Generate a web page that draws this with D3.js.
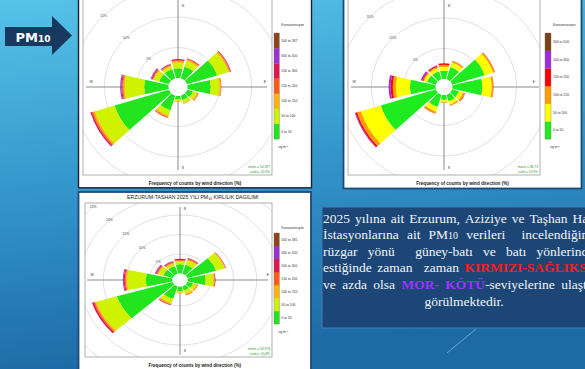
<!DOCTYPE html>
<html>
<head>
<meta charset="utf-8">
<script src="https://cdn.jsdelivr.net/npm/d3@7"></script>
<style>
  html, body { margin: 0; padding: 0; overflow: hidden; background: #2a8cc4; }
  svg { display: block; }
  .lbl { font-family: "Liberation Sans", Arial, sans-serif; }
  .body { font-family: "Liberation Serif", "Times New Roman", serif; }
</style>
</head>
<body>
<script>
// Wind sectors (degrees, 30° bins)
const directions = [0, 30, 60, 90, 120, 150, 180, 210, 240, 270, 300, 330];

// Erzurum – frequency (%) per sector for each PM10 band
const erz_0_50    = [1.59, 2.06, 4.92, 3.65, 0.95, 0.79, 0.56, 2.54, 8.89, 3.81, 1.59, 1.59];
const erz_50_100  = [0.95, 0.96, 1.83, 1.35, 0.64, 0.48, 0.28, 0.87, 3.17, 3.02, 0.87, 0.47];
const erz_100_150 = [0.24, 0.23, 0.23, 0.21, 0.20, 0.15, 0.11, 0.29, 0.32, 0.23, 0.16, 0.16];
const erz_150_200 = [0.12, 0.12, 0.10, 0.06, 0.08, 0.03, 0.02, 0.08, 0.21, 0.16, 0.13, 0.11];
const erz_200_300 = [0.20, 0.09, 0.11, 0.03, 0.03, 0.01, 0.00, 0.08, 0.20, 0.16, 0.14, 0.13];
const erz_300_500 = [0, 0, 0, 0, 0, 0, 0, 0, 0.05, 0.16, 0.13, 0.05];
const erz_500_587 = [0, 0, 0, 0, 0, 0, 0, 0, 0, 0.02, 0, 0];
const erzLegend   = ["0 to 50", "50 to 100", "100 to 150", "150 to 200", "200 to 300", "300 to 500", "500 to 587"];

// Aziziye – frequency (%) per sector for each PM10 band
const azi_0_50    = [1.37, 2.10, 5.32, 4.68, 1.13, 1.13, 0.81, 2.10, 9.03, 4.03, 1.45, 1.37];
const azi_50_100  = [0.65, 0.80, 1.37, 1.45, 0.64, 0.56, 0.32, 0.81, 3.23, 2.18, 0.49, 0.56];
const azi_100_150 = [0.32, 0.25, 0.25, 0.24, 0.33, 0.24, 0.16, 0.32, 0.64, 0.48, 0.16, 0.24];
const azi_150_200 = [0.24, 0.04, 0.06, 0.05, 0.05, 0.03, 0.00, 0.06, 0.25, 0.33, 0.16, 0.16];
const azi_200_300 = [0, 0, 0, 0, 0, 0, 0, 0, 0.11, 0.32, 0.24, 0.08];
const azi_300_500 = [0, 0, 0, 0, 0, 0, 0, 0, 0, 0, 0, 0];
const aziLegend   = ["0 to 50", "50 to 100", "100 to 150", "150 to 200", "200 to 300", "300 to 500"];

// Taşhan – frequency (%) per sector for each PM10 band
const tas_0_50    = [2.36, 2.44, 6.54, 3.92, 1.28, 1.15, 1.15, 3.46, 12.69, 5.79, 2.18, 2.05];
const tas_50_100  = [0.77, 1.15, 1.92, 1.72, 0.77, 0.90, 0.39, 1.03, 4.62, 3.98, 1.03, 0.64];
const tas_100_150 = [0.15, 0.26, 0.18, 0.21, 0.26, 0.33, 0.20, 0.38, 0.38, 0.36, 0.25, 0.26];
const tas_150_200 = [0.18, 0.18, 0.08, 0.12, 0.13, 0.13, 0.03, 0.13, 0.26, 0.20, 0.21, 0.20];
const tas_200_300 = [0.33, 0.20, 0.07, 0.11, 0.00, 0.00, 0.00, 0.13, 0.38, 0.21, 0.20, 0.21];
const tas_300_500 = [0, 0, 0, 0, 0, 0, 0, 0, 0.03, 0.20, 0.18, 0.10];
const tas_500_585 = [0, 0, 0, 0, 0, 0, 0, 0, 0, 0.02, 0, 0];
const tasLegend   = ["0 to 50", "50 to 100", "100 to 150", "150 to 200", "200 to 300", "300 to 500", "500 to 585"];

const statsErz = ["mean = 54.397", "calm = 10.9%"];
const statsAzi = ["mean = 48.73", "calm = 10.9%"];
const statsTas = ["mean = 63.678", "calm = 10.9%"];

const noteLines = [
  "2025 yılına ait Erzurum, Aziziye ve Taşhan Hava",
  "İstasyonlarına ait PM10 verileri  incelendiğinde",
  "rüzgar yönü  güney-batı ve batı yönlerinden",
  "estiğinde zaman  zaman KIRMIZI-SAĞLIKSIZ",
  "ve azda olsa MOR- KÖTÜ-seviyelerine ulaştığı",
  "görülmektedir."
];

const pal7 = ["#22e41f", "#cff200", "#ffb400", "#ff5a12", "#e0144f", "#9d2fd4", "#8a4518"];
const pal6 = ["#1fec1f", "#ffff00", "#ff9c00", "#ff0000", "#9c2be0", "#7c4014"];

const W = 585, H = 369;
const svg = d3.select("body").append("svg").attr("width", W).attr("height", H);
const defs = svg.append("defs");

// slide background
const bg = defs.append("linearGradient").attr("id", "bg")
  .attr("x1", 0).attr("y1", 0).attr("x2", 0.2).attr("y2", 1);
bg.append("stop").attr("offset", 0).attr("stop-color", "#57c3e8");
bg.append("stop").attr("offset", 0.5).attr("stop-color", "#3497cc");
bg.append("stop").attr("offset", 1).attr("stop-color", "#1d6aa5");
svg.append("rect").attr("width", W).attr("height", H).attr("fill", "url(#bg)");

// PM10 arrow badge
svg.append("path")
  .attr("d", "M5,27 L52,27 L52,16 L72,35.5 L52,55 L52,46 L5,46 Z")
  .attr("fill", "#17395f");
const badge = svg.append("text").attr("x", 15.5).attr("y", 41.5)
  .attr("fill", "#fff").attr("font-family", "'DejaVu Sans', Verdana, sans-serif")
  .attr("font-weight", "bold").attr("font-size", 13);
badge.append("tspan").text("PM");
badge.append("tspan").attr("font-size", 9).text("10");

function rose(c) {
  const g = svg.append("g");
  const [px0, py0, px1, py1] = c.panel;
  g.append("rect").attr("x", px0).attr("y", py0)
    .attr("width", px1 - px0).attr("height", py1 - py0)
    .attr("fill", "#fff").attr("stroke", c.frame).attr("stroke-width", c.frameW);

  const [x0, y0, x1, y1] = c.rect;
  const clipId = "clip-" + c.id;
  defs.append("clipPath").attr("id", clipId).append("rect")
    .attr("x", x0).attr("y", y0).attr("width", x1 - x0).attr("height", y1 - y0);

  const r = d3.scaleLinear().domain([0, 1]).range([c.hole, c.hole + c.k]);
  const inner = g.append("g").attr("clip-path", `url(#${clipId})`);

  // grid rings
  const ticks = d3.range(5, c.ringMax + 0.1, 5);
  inner.selectAll("ellipse.ring").data(ticks).join("ellipse").attr("class", "ring")
    .attr("cx", c.cx).attr("cy", c.cy)
    .attr("rx", d => r(d) * c.sx).attr("ry", d => r(d))
    .attr("fill", "none").attr("stroke", "#d2d2d2").attr("stroke-width", 0.7);

  // compass axes
  inner.append("line").attr("x1", c.cx - c.ax[0]).attr("x2", c.cx + c.ax[1])
    .attr("y1", c.cy).attr("y2", c.cy).attr("stroke", "#7d7d7d").attr("stroke-width", 0.9);
  inner.append("line").attr("x1", c.cx).attr("x2", c.cx)
    .attr("y1", c.cy - c.ay[0]).attr("y2", c.cy + c.ay[1]).attr("stroke", "#7d7d7d").attr("stroke-width", 0.9);

  // stacked petals
  const segs = [];
  directions.forEach((dir, i) => {
    let cum = 0;
    c.bands.forEach((band, j) => {
      const v = band[i];
      if (v > 0) segs.push({ dir, lo: cum, hi: cum + v, j });
      cum += v;
    });
  });
  const half = 13 * Math.PI / 180;
  const arc = d3.arc()
    .innerRadius(d => r(d.lo)).outerRadius(d => r(d.hi))
    .startAngle(d => d.dir * Math.PI / 180 - half)
    .endAngle(d => d.dir * Math.PI / 180 + half);
  inner.append("g").attr("transform", `translate(${c.cx},${c.cy}) scale(${c.sx},1)`)
    .selectAll("path").data(segs).join("path")
    .attr("d", arc).attr("fill", d => c.colors[d.j]);

  // calm hole
  inner.append("ellipse").attr("cx", c.cx).attr("cy", c.cy)
    .attr("rx", c.hole * c.sx).attr("ry", c.hole).attr("fill", "#fff");

  // ring labels
  ticks.forEach(t => {
    const lx = c.cx - r(t) * c.sx * Math.SQRT1_2, ly = c.cy - r(t) * Math.SQRT1_2;
    if (lx > x0 + 3 && ly > y0 + 2) {
      g.append("text").attr("class", "lbl").attr("x", lx).attr("y", ly).attr("dy", "0.35em")
        .attr("text-anchor", "middle").attr("font-size", 3.4).attr("fill", "#444").text(t + "%");
    }
  });

  // compass letters
  const cl = [["N", c.cx + 5, c.cy - c.cr[1]], ["S", c.cx + 5, c.cy + c.cr[1]],
              ["W", c.cx - c.cr[0], c.cy - 5], ["E", c.cx + c.cr[0], c.cy - 5]];
  cl.forEach(([t, x, y]) => g.append("text").attr("class", "lbl").attr("x", x).attr("y", y)
    .attr("dy", "0.35em").attr("text-anchor", "middle").attr("font-size", 3.4).attr("fill", "#333").text(t));

  // plot frame
  g.append("rect").attr("x", x0).attr("y", y0).attr("width", x1 - x0).attr("height", y1 - y0)
    .attr("fill", "none").attr("stroke", "#9c9c9c").attr("stroke-width", 0.8);

  // statistics
  c.stats.forEach((s, i) => g.append("text").attr("class", "lbl")
    .attr("x", x1 - 2).attr("y", y1 - 7.5 + i * 5).attr("text-anchor", "end")
    .attr("font-size", 3.3).attr("fill", "#2c9a2c").text(s));

  // colour key
  const L = c.legend, n = c.colors.length, bh = (L.y1 - L.y0) / n;
  const key = g.append("g");
  key.selectAll("rect").data(c.colors).join("rect")
    .attr("x", L.x).attr("width", L.w)
    .attr("y", (d, i) => L.y1 - (i + 1) * bh).attr("height", bh + 0.2)
    .attr("fill", d => d);
  key.append("rect").attr("x", L.x).attr("y", L.y0).attr("width", L.w).attr("height", L.y1 - L.y0)
    .attr("fill", "none").attr("stroke", "#777").attr("stroke-width", 0.4);
  key.selectAll("text.band").data(c.labels).join("text").attr("class", "lbl band")
    .attr("x", L.x + L.w + 2).attr("y", (d, i) => L.y1 - (i + 0.5) * bh).attr("dy", "0.35em")
    .attr("font-size", 3.4).attr("fill", "#333").text(d => d);
  key.append("text").attr("class", "lbl").attr("x", L.x + L.w + 2).attr("y", L.y0 - c.keyTitleGap)
    .attr("font-size", 3.4).attr("fill", "#333").text("Konsantrasyon");
  const unit = key.append("text").attr("class", "lbl").attr("x", L.x + L.w - 1).attr("y", L.y1 + c.unitGap)
    .attr("font-size", 3.4).attr("fill", "#333");
  unit.append("tspan").text("ug m");
  unit.append("tspan").attr("font-size", 2.4).attr("dy", -1.3).text("-3");

  // footer
  g.append("text").attr("class", "lbl").attr("x", (px0 + px1) / 2).attr("y", c.footY)
    .attr("text-anchor", "middle").attr("font-size", 4.6).attr("font-weight", "bold")
    .attr("fill", "#222").text("Frequency of counts by wind direction (%)");

  if (c.title) {
    const tt = g.append("text").attr("class", "lbl").attr("x", (px0 + px1) / 2 - 2).attr("y", c.titleY)
      .attr("text-anchor", "middle").attr("font-size", 5.2).attr("fill", "#222");
    tt.append("tspan").text(c.title[0]);
    tt.append("tspan").attr("font-size", 3.4).attr("dy", 1).text(c.title[1]);
    tt.append("tspan").attr("dy", -1).text(c.title[2]);
  }
}

rose({
  id: "erz", panel: [78.5, -3, 311.5, 187.8], frame: "#1d2230", frameW: 1.4,
  cx: 178, cy: 87, rect: [83, -1, 272, 175], hole: 9, k: 6.1, sx: 1.05, ringMax: 20,
  ax: [92, 89], ay: [90, 83], cr: [87, 81],
  bands: [erz_0_50, erz_50_100, erz_100_150, erz_150_200, erz_200_300, erz_300_500, erz_500_587],
  colors: pal7, labels: erzLegend, stats: statsErz,
  legend: { x: 274, w: 5.3, y0: 33, y1: 139 }, keyTitleGap: 7.5, unitGap: 9,
  footY: 184.5
});

rose({
  id: "azi", panel: [343.5, -3, 581.5, 188.5], frame: "#1e4a78", frameW: 1.8,
  cx: 444, cy: 87, rect: [348, -1, 540, 175], hole: 8, k: 6.1, sx: 1.05, ringMax: 20,
  ax: [93, 95], ay: [90, 83], cr: [90, 81],
  bands: [azi_0_50, azi_50_100, azi_100_150, azi_150_200, azi_200_300, azi_300_500],
  colors: pal6, labels: aziLegend, stats: statsAzi,
  legend: { x: 545, w: 6, y0: 33, y1: 139 }, keyTitleGap: 7.5, unitGap: 9,
  footY: 185
});

rose({
  id: "tas", panel: [78.5, 192, 311, 372], frame: "#1e4a78", frameW: 1.8,
  cx: 180, cy: 280, rect: [85, 203, 272, 357], hole: 6.5, k: 3.9, sx: 1.18, ringMax: 30,
  ax: [93, 88], ay: [73, 75], cr: [88, 71],
  bands: [tas_0_50, tas_50_100, tas_100_150, tas_150_200, tas_200_300, tas_300_500, tas_500_585],
  colors: pal7, labels: tasLegend, stats: statsTas,
  legend: { x: 274, w: 5.3, y0: 233, y1: 324 }, keyTitleGap: 4.5, unitGap: 9,
  footY: 366.5, title: ["ERZURUM-TASHAN 2025 YILI PM", "10", " KIRLILIK DAGILIMI"], titleY: 199
});

// Note box
svg.append("rect").attr("x", 322).attr("y", 207).attr("width", 300).attr("height", 121)
  .attr("fill", "#1c4676").attr("stroke", "#3f7fb9").attr("stroke-width", 1);

svg.append("line").attr("x1", 447).attr("y1", 353).attr("x2", 476).attr("y2", 329)
  .attr("stroke", "#a9d4f0").attr("stroke-opacity", 0.7).attr("stroke-width", 0.8);

// break a line into words made of styled runs
function tokenize(line) {
  const chars = [];
  line.split(/(KIRMIZI-SAĞLIKSIZ|MOR- KÖTÜ|PM10)/).filter(s => s !== "").forEach(p => {
    const cls = p === "KIRMIZI-SAĞLIKSIZ" ? "red" : p === "MOR- KÖTÜ" ? "purple" : null;
    [...p].forEach((ch, i) => chars.push({ ch, cls: p === "PM10" && i > 1 ? "sub" : cls }));
  });
  const words = [];
  let cur = null;
  chars.forEach(c => {
    if (c.ch === " ") { if (cur) { words.push(cur); cur = null; } if (words.length) words[words.length - 1].gaps++; return; }
    if (!cur) cur = { runs: [], gaps: 0 };
    const last = cur.runs[cur.runs.length - 1];
    if (last && last.cls === c.cls) last.t += c.ch; else cur.runs.push({ t: c.ch, cls: c.cls });
  });
  if (cur) words.push(cur);
  return words;
}

function drawRuns(sel, runs) {
  runs.forEach(rn => {
    const ts = sel.append("tspan").text(rn.t);
    if (rn.cls === "red") ts.attr("fill", "#ff1a1a").attr("font-weight", "bold");
    if (rn.cls === "purple") ts.attr("fill", "#9b35ff").attr("font-weight", "bold");
    if (rn.cls === "sub") ts.attr("font-size", 10);
  });
}

const textLeft = 323, textRight = 601, textCenter = 464, base0 = 222.8, step = 16.55, fs = 13.5;
noteLines.forEach((line, li) => {
  const y = base0 + li * step;
  const words = tokenize(line);
  if (li === noteLines.length - 1) {
    const t = svg.append("text").attr("class", "body").attr("x", textCenter).attr("y", y)
      .attr("text-anchor", "middle").attr("font-size", fs).attr("fill", "#f2f4f8");
    drawRuns(t, words.flatMap(w => w.runs));
    return;
  }
  const els = words.map(w => {
    const t = svg.append("text").attr("class", "body").attr("y", y)
      .attr("font-size", fs).attr("fill", "#f2f4f8");
    drawRuns(t, w.runs);
    return t;
  });
  const widths = els.map(e => e.node().getComputedTextLength());
  const nGaps = d3.sum(words.slice(0, -1), w => w.gaps);
  const gap = (textRight - textLeft - d3.sum(widths)) / nGaps;
  let x = textLeft;
  els.forEach((e, i) => { e.attr("x", x); x += widths[i] + words[i].gaps * gap; });
});
</script>
</body>
</html>
